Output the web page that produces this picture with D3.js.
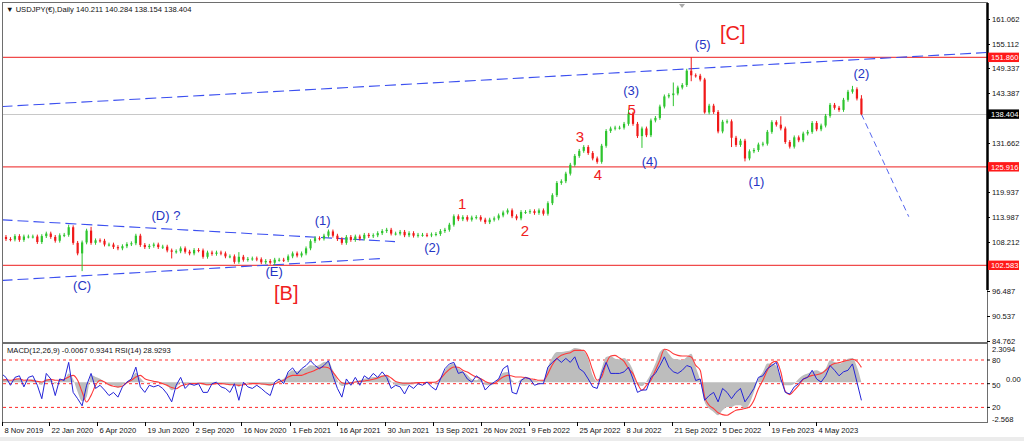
<!DOCTYPE html>
<html><head><meta charset="utf-8">
<script src="https://cdn.jsdelivr.net/npm/d3@7"></script>
<style>
html,body{margin:0;padding:0;background:#fff;}
svg{display:block;}
text{font-family:"Liberation Sans",Arial,sans-serif;}
</style></head><body>
<svg id="c" width="1024" height="441"></svg>
<script>
// ---------------- DATA ----------------
const startDate = "2019-11-08";   // first weekly bar (Fridays, one bar per week)
const closes = [109.3,108.8,108.7,109.5,108.6,109.4,109.4,109.4,108.1,109.5,
110.1,109.3,108.4,109.7,109.8,111.6,107.9,105.4,108.0,110.8,
107.9,108.5,108.4,107.5,107.5,106.9,106.6,107.1,107.6,107.8,
109.6,107.4,106.9,107.2,107.5,106.9,107.0,106.1,105.8,105.9,
106.6,105.8,105.4,106.2,106.1,104.6,105.6,105.3,105.6,105.4,
104.7,104.7,103.4,104.6,103.9,104.1,104.2,104.0,103.3,103.6,
103.2,103.9,103.9,103.8,104.7,105.4,104.9,105.4,106.6,108.3,
109.0,108.9,109.6,110.6,109.6,108.8,107.9,109.3,108.6,109.4,
108.9,109.8,109.5,109.7,110.2,110.7,111.0,110.1,110.1,110.5,
109.7,110.2,109.6,109.8,109.8,109.7,109.9,110.0,110.7,111.0,
112.2,114.2,113.5,114.0,113.4,113.9,114.0,113.4,112.8,113.4,
113.7,114.4,115.1,115.6,114.2,113.7,115.2,115.2,115.4,115.0,
115.6,114.8,117.3,119.2,122.1,122.5,124.3,126.4,128.5,129.7,
130.6,129.2,127.9,127.1,130.9,134.4,135.0,135.2,135.2,136.1,
138.5,136.1,133.2,135.0,133.4,136.9,137.5,140.2,142.6,142.9,
143.3,144.7,145.3,148.7,147.6,147.5,146.6,138.8,140.4,138.9,
134.3,136.6,136.7,132.8,131.1,132.1,127.9,129.6,129.9,131.2,
131.4,134.2,136.5,135.9,135.0,131.8,130.7,132.9,132.2,133.8,
134.2,136.3,134.8,135.7,138.0,140.6,139.9,139.4,141.8,143.7,
144.3,142.1,138.4];
const wickDates = ["2020-02-21","2020-03-13","2020-03-27","2020-07-31","2020-11-13","2021-01-08",
"2022-07-15","2022-08-05","2022-09-23","2022-10-21","2022-11-11","2022-12-23","2023-01-13",
"2023-03-10","2023-06-30","2023-07-14"];
const wickHighs = [112.2,null,111.7,null,105.7,null,139.4,null,145.9,151.9,147.0,null,null,137.9,145.1,142.9];
const wickLows  = [null,101.2,null,104.2,null,102.6,null,130.4,140.3,146.2,138.5,130.6,127.2,null,null,138.154];

const rsi = [62.7,58,48,58,60,46,58,60,48,31,
63,56,35,56,54,77,39,31,22,48,
63,44,48,42,35,39,33,46,52,56,
71,46,39,48,46,48,44,37,27,48,
58,44,50,48,50,39,39,50,52,46,
44,39,50,29,52,46,44,48,44,39,
35,52,56,50,65,70,62,69,73,79,
73,69,73,79,60,44,33,56,48,58,
48,60,56,63,58,65,58,44,48,46,
37,48,44,50,48,52,46,42,56,69,
75,77,63,65,56,52,60,56,42,48,
52,56,69,73,39,37,54,58,56,48,
50,50,71,77,82,77,82,77,84,69,
65,56,46,44,63,77,63,63,63,65,
71,56,39,42,42,58,63,73,84,71,
65,63,67,73,71,54,56,29,35,39,
27,44,39,31,39,44,27,35,44,58,
60,69,73,77,56,39,37,46,50,56,
58,67,56,52,60,73,67,60,65,67,
75,52,28.9293];
const macd = [0.22,0.18,0.05,0.18,0.22,0.05,0.12,0.18,0.05,-0.16,
0.22,0.18,-0.09,0.12,0.12,0.54,0.18,-0.62,-1.20,-0.93,
0.43,0.33,0.22,0.01,-0.20,-0.20,-0.36,-0.16,0.05,0.22,
0.60,0.26,0.01,-0.03,-0.03,-0.03,-0.09,-0.20,-0.51,-0.30,
-0.03,-0.09,-0.03,-0.03,-0.03,-0.16,-0.20,-0.09,-0.03,-0.09,
-0.13,-0.20,-0.09,-0.30,0.01,-0.05,-0.09,-0.09,-0.13,-0.20,
-0.24,-0.03,0.12,0.22,0.54,0.75,0.68,0.81,0.89,1.06,
1.02,1.10,1.27,1.31,0.75,0.12,-0.24,-0.16,-0.09,0.05,
0.12,0.22,0.26,0.33,0.33,0.43,0.43,0.05,-0.16,-0.20,
-0.24,-0.16,-0.11,-0.07,-0.03,0.01,-0.03,-0.09,0.22,0.75,
1.06,1.17,0.89,0.68,0.47,0.18,0.12,0.26,-0.16,-0.20,
-0.09,0.22,0.60,0.64,0.12,-0.03,0.18,0.26,0.22,0.12,
0.05,0.12,0.96,1.58,1.90,1.90,1.94,2.00,2.15,2.11,
1.94,1.48,0.43,0.05,0.85,1.58,1.65,1.48,1.44,1.52,
1.27,0.75,-0.16,-0.24,0.05,0.54,1.17,1.90,2.11,1.79,
1.48,1.44,1.38,1.58,1.79,0.96,0.12,-1.25,-1.66,-1.87,
-2.08,-1.77,-1.56,-1.56,-1.45,-1.45,-1.66,-1.35,-0.62,0.22,
0.64,1.17,1.17,1.02,0.22,-0.20,-0.20,-0.09,0.22,0.43,
0.54,0.68,0.75,0.64,0.85,1.38,1.27,1.17,1.27,1.48,
1.52,0.96,-0.0067];
const signal = [0.12,0.16,0.12,0.18,0.22,0.12,0.14,0.10,0.05,0.01,
0.12,0.18,0.12,0.12,0.18,0.33,0.43,0.12,-0.62,-1.25,
-0.83,-0.20,0.12,0.01,-0.16,-0.26,-0.30,-0.24,-0.03,0.12,
0.33,0.43,0.22,0.12,0.05,0.01,-0.09,-0.20,-0.34,-0.41,
-0.24,-0.16,-0.09,-0.09,-0.07,-0.09,-0.16,-0.13,-0.09,-0.09,
-0.11,-0.16,-0.16,-0.20,-0.16,-0.11,-0.09,-0.09,-0.11,-0.13,
-0.16,-0.11,0.01,0.12,0.33,0.43,0.43,0.43,0.54,0.64,
0.75,0.89,0.96,0.91,0.64,0.26,-0.03,-0.09,-0.03,0.01,
0.05,0.08,0.12,0.18,0.26,0.37,0.43,0.26,0.05,-0.03,
-0.07,-0.07,-0.05,-0.03,-0.03,-0.01,-0.01,0.01,0.22,0.54,
0.81,0.96,0.94,0.75,0.64,0.47,0.33,0.22,0.05,-0.07,
-0.09,0.12,0.33,0.43,0.39,0.33,0.33,0.29,0.22,0.18,
0.12,0.12,0.54,1.10,1.48,1.69,1.79,1.86,2.00,2.00,
2.00,1.58,0.75,0.12,0.33,1.17,1.65,1.69,1.52,1.31,
0.85,0.54,-0.09,-0.51,-0.20,0.12,0.75,1.38,2.07,2.00,
1.79,1.69,1.65,1.65,1.58,1.06,0.75,-0.93,-1.45,-1.66,
-1.92,-2.04,-2.08,-1.92,-1.77,-1.71,-1.66,-1.56,-1.14,-0.41,
0.12,0.75,1.23,1.31,0.64,-0.57,-0.78,-0.51,-0.20,0.18,
0.33,0.43,0.47,0.54,0.75,1.02,1.17,1.23,1.31,1.38,
1.44,1.31,0.9341];

const priceTicks = [161.062,155.112,149.337,143.387,137.437,131.662,125.712,119.937,113.987,108.212,102.262,96.487,90.537,84.762];
const levelLines = [151.860,125.916,102.583];
const lastPrice = 138.404;
const dateTicks = ["2019-11-08","2020-01-22","2020-04-06","2020-06-19","2020-09-02","2020-11-16","2021-02-01",
"2021-04-16","2021-06-30","2021-09-13","2021-11-26","2022-02-09","2022-04-25","2022-07-08","2022-09-21",
"2022-12-05","2023-02-19","2023-05-04"];
const rsiLevels = [80,50,20];
const subLabels = ["2.3094","80","50","0.00","20","-2.568"];

// trend lines: [date, price] pairs
const channelTop   = [["2019-11-08",140.2],["2024-01-25",153.0]];
const triangleTop  = [["2019-11-08",113.36],["2021-07-15",108.2]];
const triangleBot  = [["2019-11-08",98.98],["2021-06-26",104.2]];
const projection   = [["2023-07-14",138.4],["2023-09-26",114.1]];

// wave labels
const waveText   = ["(C)","(D) ?","(E)","(1)","(2)","(3)","(4)","(5)","(1)","(2)","[B]","[C]","1","2","3","4","5"];
const waveDates  = ["2020-03-13","2020-07-22","2021-01-07","2021-03-24","2021-09-11","2022-07-19","2022-08-17","2022-11-08","2023-01-31","2023-07-14","2021-01-26","2022-12-25","2021-10-28","2022-02-03","2022-04-30","2022-05-28","2022-07-20"];
const wavePrices = [97.8,114.4,101.0,113.2,106.8,144.1,127.2,154.9,122.4,148.0,95.9,157.7,117.2,110.8,133.1,124.1,139.6];
const waveKind   = ["b","b","b","b","b","b","b","b","b","b","R","R","r","r","r","r","r"];

// ---------------- CHART ----------------
const svg = d3.select("#c");
const L = 3, R = 987, T = 3, B = 342, ST = 344, SB = 422;
const parse = d3.utcParse("%Y-%m-%d");
const fmt = d3.utcFormat("%Y-%m-%d");
const t0 = parse(startDate);
const dates = closes.map((_, i) => d3.utcDay.offset(t0, 7 * i));

const x = d3.scaleUtc().domain([parse("2019-11-08"), parse("2023-05-04")]).range([1.5, 816]);
const y = d3.scaleLinear().domain([84.762, 161.062]).range([340.5, 18.5]);
const yR = d3.scaleLinear().domain([0, 100]).range([423.2, 344.2]);
const yM = d3.scaleLinear().domain([-2.568, 2.3094]).range([423, 345.5]);

const defs = svg.append("defs");
defs.append("clipPath").attr("id", "cm").append("rect").attr("x", L).attr("y", T).attr("width", R - L).attr("height", B - T);
defs.append("clipPath").attr("id", "cs").append("rect").attr("x", L).attr("y", ST).attr("width", R - L).attr("height", SB - ST);

svg.append("rect").attr("x", 0).attr("y", 0).attr("width", 1024).attr("height", 441).attr("fill", "#fff");
svg.append("rect").attr("x", 0).attr("y", 437).attr("width", 1024).attr("height", 4).attr("fill", "#ececec");

const gm = svg.append("g").attr("clip-path", "url(#cm)");

// current price line
gm.append("line").attr("x1", L).attr("x2", R).attr("y1", Math.round(y(lastPrice)) + 0.5).attr("y2", Math.round(y(lastPrice)) + 0.5)
  .attr("stroke", "#c8c8c8").attr("stroke-width", 1);
// level lines
gm.selectAll(".lvl").data(levelLines).join("line")
  .attr("x1", L).attr("x2", R).attr("y1", d => y(d)).attr("y2", d => y(d))
  .attr("stroke", "#f04a4a").attr("stroke-width", 1.3);

// trend lines
const tl = d3.line().x(d => x(parse(d[0]))).y(d => y(d[1]));
[channelTop, triangleTop, triangleBot].forEach(seg => {
  gm.append("path").attr("d", tl(seg)).attr("fill", "none").attr("stroke", "#3b4ff0")
    .attr("stroke-width", 1.1).attr("stroke-dasharray", "11,5");
});
gm.append("path").attr("d", tl(projection)).attr("fill", "none").attr("stroke", "#5566ee")
  .attr("stroke-width", 1).attr("stroke-dasharray", "6,4");

// candles
const wick = new Map(wickDates.map((d, i) => [d, [wickHighs[i], wickLows[i]]]));
const bars = closes.map((c, i) => {
  const o = i ? closes[i - 1] : c;
  let hi = Math.max(o, c) + 0.45, lo = Math.min(o, c) - 0.45;
  const w = wick.get(fmt(dates[i]));
  if (w) { if (w[0] != null) hi = w[0]; if (w[1] != null) lo = w[1]; }
  return { d: dates[i], o, c, hi, lo, up: c >= o };
});
const gc = gm.append("g");
gc.selectAll("line").data(bars).join("line")
  .attr("x1", d => x(d.d)).attr("x2", d => x(d.d))
  .attr("y1", d => y(d.hi)).attr("y2", d => y(d.lo))
  .attr("stroke", d => d.up ? "#2ec42e" : "#f01818").attr("stroke-width", 1);
gc.selectAll("rect").data(bars).join("rect")
  .attr("x", d => x(d.d) - 1.1).attr("width", 2.2)
  .attr("y", d => y(Math.max(d.o, d.c)))
  .attr("height", d => Math.max(1, Math.abs(y(d.o) - y(d.c))))
  .attr("fill", d => d.up ? "#2ec42e" : "#f01818");

// wave labels
const wstyle = { b: ["#2535c4", 13], r: ["#f02020", 15], R: ["#f02020", 20] };
svg.append("g").selectAll("text").data(waveText).join("text")
  .attr("x", (d, i) => x(parse(waveDates[i])))
  .attr("y", (d, i) => y(wavePrices[i]))
  .attr("text-anchor", "middle").attr("dominant-baseline", "central")
  .attr("fill", (d, i) => wstyle[waveKind[i]][0])
  .attr("font-size", (d, i) => wstyle[waveKind[i]][1])
  .text(d => d);

// main frame
svg.append("rect").attr("x", L - 0.5).attr("y", T - 0.5).attr("width", R - L + 1).attr("height", B - T + 1)
  .attr("fill", "none").attr("stroke", "#6e6e6e");
svg.append("line").attr("x1", R + 0.5).attr("x2", R + 0.5).attr("y1", T).attr("y2", 290).attr("stroke", "#000").attr("stroke-width", 2.5);
svg.append("polygon").attr("points", "679,4 685,4 682,8").attr("fill", "#aaa");

// price axis (labels hidden behind tags are skipped, tick marks kept)
const ga = svg.append("g").attr("font-size", 7.6).attr("fill", "#111");
const tagged = levelLines.concat([lastPrice]);
priceTicks.forEach(p => {
  const yy = Math.round(y(p)) + 0.5;
  ga.append("line").attr("x1", R).attr("x2", R + 3).attr("y1", yy).attr("y2", yy).attr("stroke", "#000");
  if (tagged.some(q => Math.abs(y(q) - y(p)) < 9)) return;
  ga.append("text").attr("x", 992).attr("y", yy + 2.7).text(d3.format(".3f")(p));
});
function tag(p, bg) {
  const yy = y(p);
  ga.append("rect").attr("x", 988).attr("y", yy - 4.7).attr("width", 31).attr("height", 9.4).attr("fill", bg);
  ga.append("text").attr("x", 991).attr("y", yy + 2.8).attr("fill", "#fff").text(d3.format(".3f")(p));
}
levelLines.forEach(p => tag(p, "#ff1a1a"));
tag(lastPrice, "#000");

// header
svg.append("text").attr("x", 6).attr("y", 12).attr("font-size", 7.6).attr("fill", "#111")
  .text("\u25BC  USDJPY(\u20AC),Daily  140.211 140.284 138.154 138.404");

// ---------------- SUB PANEL ----------------
const gs = svg.append("g").attr("clip-path", "url(#cs)");
gs.selectAll(".rl").data(rsiLevels).join("line")
  .attr("x1", L).attr("x2", R).attr("y1", d => yR(d)).attr("y2", d => yR(d))
  .attr("stroke", "#ff2a2a").attr("stroke-width", 1).attr("stroke-dasharray", "3,3");
gs.append("path").datum(macd)
  .attr("d", d3.area().x((d, i) => x(dates[i])).y0(yM(0)).y1(d => yM(d)).curve(d3.curveMonotoneX))
  .attr("fill", "#bdbdbd");
gs.append("path").datum(signal)
  .attr("d", d3.line().x((d, i) => x(dates[i])).y(d => yM(d)).curve(d3.curveMonotoneX))
  .attr("fill", "none").attr("stroke", "#ff3a3a").attr("stroke-width", 1.1);
gs.append("path").datum(rsi)
  .attr("d", d3.line().x((d, i) => x(dates[i])).y(d => yR(d)))
  .attr("fill", "none").attr("stroke", "#2424d8").attr("stroke-width", 1);

svg.append("rect").attr("x", L - 0.5).attr("y", ST - 0.5).attr("width", R - L + 1).attr("height", SB - ST + 1)
  .attr("fill", "none").attr("stroke", "#6e6e6e");
svg.append("text").attr("x", 7).attr("y", 353).attr("font-size", 7.6).attr("fill", "#111")
  .text("MACD(12,26,9) -0.0067 0.9341  RSI(14) 28.9293");

// right labels of the sub window; "50" and "0.00" share a level, as in the original
const subY = [yM(2.3094) + 3.5, yR(80), yR(50) + 1.5, yM(0) - 2.5, yR(20), yM(-2.568) - 3.5];
const subX = [992, 992, 992, 1006, 992, 992];
subLabels.forEach((s, i) => {
  svg.append("text").attr("x", subX[i]).attr("y", subY[i] + 2.7).attr("font-size", 7.6).attr("fill", "#111").text(s);
});
[yR(80), yR(50), yR(20)].forEach(v => svg.append("line").attr("x1", R).attr("x2", R + 3).attr("y1", v).attr("y2", v).attr("stroke", "#000"));

// date axis
const gd = svg.append("g").attr("font-size", 7.6).attr("fill", "#111");
const dfmt = d3.utcFormat("%-d %b %Y");
dateTicks.forEach(s => {
  const xx = Math.round(x(parse(s))) + 0.5;
  gd.append("line").attr("x1", xx).attr("x2", xx).attr("y1", SB).attr("y2", SB + 4).attr("stroke", "#000");
  gd.append("text").attr("x", xx + 2).attr("y", 433).text(dfmt(parse(s)));
});
</script>
</body></html>
